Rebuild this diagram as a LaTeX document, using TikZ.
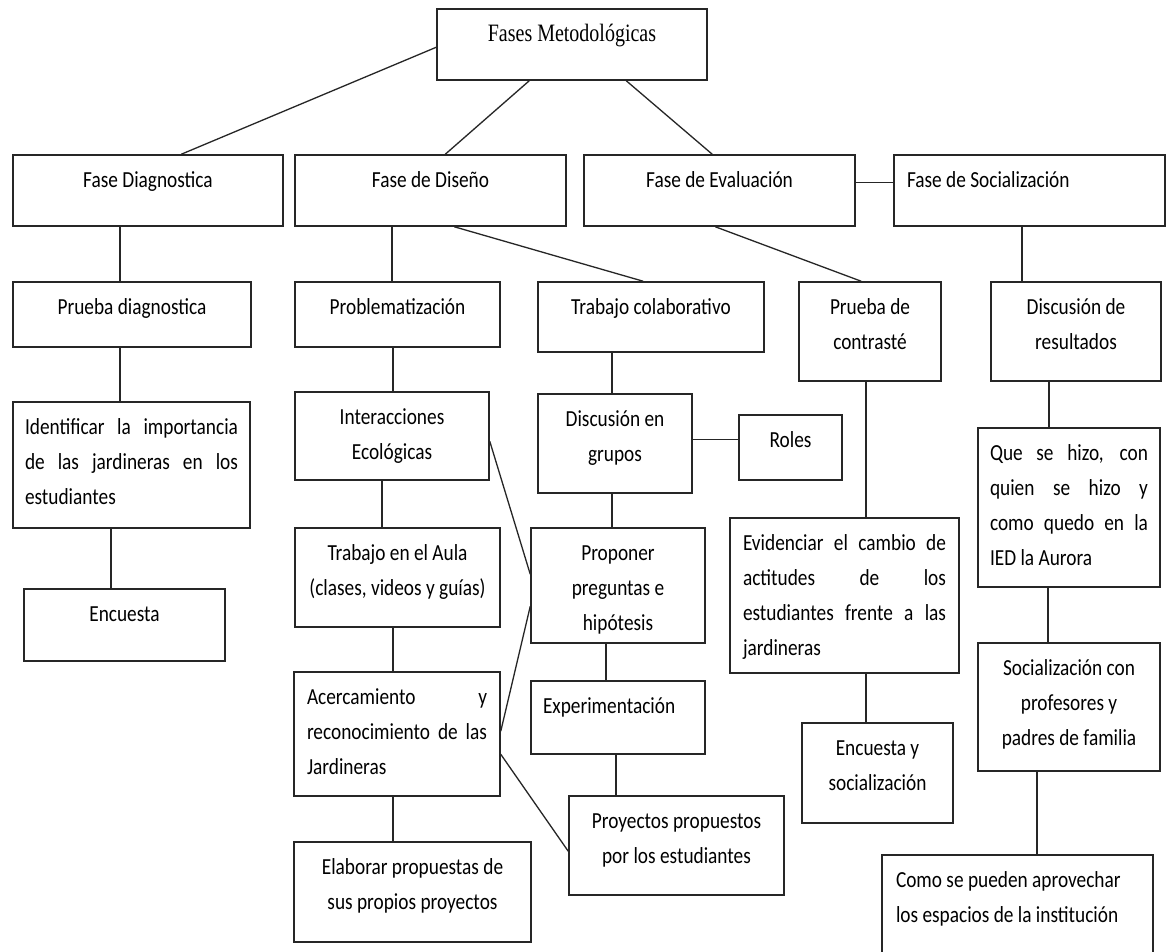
\documentclass[tikz,border=0pt]{standalone}
\usepackage{fontspec}
\usetikzlibrary{fit}
\newfontfamily\calfont{Carlito}[FakeStretch=0.84]
\newfontfamily\timesfont{Liberation Serif}[FakeStretch=0.8]
\newcommand\cf{\calfont\fontsize{23}{35}\selectfont}
\newcommand\txt[3]{\vtop{\hsize=#1pt\parindent=0pt\cf #2#3\par}}
\newcommand\jl[1]{\makebox[\hsize][s]{#1}}
\tikzset{
  box/.style={draw=black!85, line width=1.5pt, inner sep=0pt},
  link/.style={draw=black!85, line width=1.3pt},
}
\newcommand\bx[8]{%
  \node[box, fit={(#2,#3) (#4,#5)}] (#1) {};
  \node[anchor=base, inner sep=0pt] (#1t) at ([yshift=-33pt]#1.north) {\txt{#6}{#7}{#8}};
}
\newcommand\vl[3]{\path (#3,0) coordinate (vx); \draw[link] (#1.south -| vx) -- (#2.north -| vx);}
\begin{document}
\begin{tikzpicture}[x=1pt, y=-1pt]
\useasboundingbox[fill=white] (0,0) rectangle (1166,951);
% row 0
\bx{fases}{437}{9}{707}{80}{250}{\centering\timesfont\fontsize{25}{35}\selectfont}{Fases Metodológicas}
% row 1
\bx{fdiag}{13}{155}{283}{226}{250}{\centering}{Fase Diagnostica}
\bx{fdis}{295}{155}{566}{226}{250}{\centering}{Fase de Diseño}
\bx{feval}{584}{155}{855}{226}{250}{\centering}{Fase de Evaluación}
\bx{fsoc}{894}{155}{1165}{226}{245}{\raggedright}{Fase de Socialización}
% row 2
\bx{pdiag}{13}{282}{251}{347}{220}{\centering}{Prueba diagnostica}
\bx{prob}{295}{282}{500}{347}{190}{\centering}{Problematización}
\bx{tcol}{538}{282}{764}{352}{210}{\centering}{Trabajo colaborativo}
\bx{pcon}{799}{282}{941}{381}{130}{\centering}{Prueba de\\contrasté}
\bx{dres}{991}{282}{1161}{381}{160}{\centering}{Discusión de\\resultados}
% left column
\bx{ident}{13}{402}{250}{528}{213}{\raggedright}{\jl{Identificar la importancia}\\\jl{de las jardineras en los}\\estudiantes}
\bx{enc}{24}{589}{225}{661}{190}{\centering}{Encuesta}
% design column
\bx{inter}{295}{392}{489}{480}{180}{\centering}{Interacciones\\Ecológicas}
\bx{taula}{295}{528}{500}{627}{195}{\centering}{Trabajo en el Aula\\(clases, videos y guías)}
\bx{acer}{294}{672}{500}{796}{180}{\raggedright}{\jl{Acercamiento y}\\\jl{reconocimiento de las}\\Jardineras}
\bx{elab}{294}{842}{531}{942}{225}{\centering}{Elaborar propuestas de\\sus propios proyectos}
% collaborative column
\bx{dgru}{538}{394}{692}{493}{145}{\centering}{Discusión en\\grupos}
\bx{roles}{739}{415}{842}{480}{95}{\centering}{Roles}
\bx{prop}{531}{528}{705}{643}{165}{\centering}{Proponer\\preguntas e\\hipótesis}
\bx{exper}{531}{681}{705}{754}{150}{\raggedright}{Experimentación}
\bx{proy}{569}{796}{784}{895}{205}{\centering}{Proyectos propuestos\\por los estudiantes}
% evaluation column
\bx{evid}{730}{518}{959}{673}{203}{\raggedright}{\jl{Evidenciar el cambio de}\\\jl{actitudes de los}\\\jl{estudiantes frente a las}\\jardineras}
\bx{encs}{802}{723}{953}{823}{140}{\centering}{Encuesta y\\socialización}
% socialization column
\bx{que}{978}{428}{1160}{587}{158}{\raggedright}{\jl{Que se hizo, con}\\\jl{quien se hizo y}\\\jl{como quedo en la}\\IED la Aurora}
\bx{socp}{978}{643}{1160}{771}{170}{\centering}{Socialización con\\profesores y\\padres de familia}
\bx{como}{882}{855}{1153}{953}{243}{\raggedright}{Como se pueden aprovechar\\los espacios de la institución}
% diagonal / horizontal connectors
\draw[link] ([yshift=-39pt]fases.north west) -- ([xshift=169pt]fdiag.north west);
\draw[link] ([xshift=93pt]fases.south west) -- ([xshift=151pt]fdis.north west);
\draw[link] ([xshift=190pt]fases.south west) -- ([xshift=129pt]feval.north west);
\draw[link] ([yshift=-28pt]feval.north east) -- ([yshift=-28pt]fsoc.north west);
\draw[link] ([xshift=160pt]fdis.south west) -- ([xshift=106pt]tcol.north west);
\draw[link] ([xshift=132pt]feval.south west) -- ([xshift=63pt]pcon.north west);
\draw[link] ([yshift=-46pt]dgru.north east) -- ([yshift=-46pt]dgru.north east -| roles.west);
\draw[link] ([yshift=-50pt]inter.north east) -- ([yshift=-47pt]prop.north west);
\draw[link] ([yshift=-60pt]acer.north east) -- ([yshift=-79pt]prop.north west);
\draw[link] ([yshift=-83pt]acer.north east) -- ([yshift=-56pt]proy.north west);
% vertical connectors
\vl{fdiag}{pdiag}{120}
\vl{fdis}{prob}{392}
\vl{fsoc}{dres}{1022}
\vl{pdiag}{ident}{120}
\vl{ident}{enc}{111}
\vl{prob}{inter}{393}
\vl{inter}{taula}{382}
\vl{taula}{acer}{393}
\vl{acer}{elab}{393}
\vl{tcol}{dgru}{612}
\vl{dgru}{prop}{612}
\vl{prop}{exper}{606}
\vl{exper}{proy}{616}
\vl{pcon}{evid}{866}
\vl{evid}{encs}{866}
\vl{dres}{que}{1049}
\vl{que}{socp}{1048}
\vl{socp}{como}{1037}
\end{tikzpicture}
\end{document}
